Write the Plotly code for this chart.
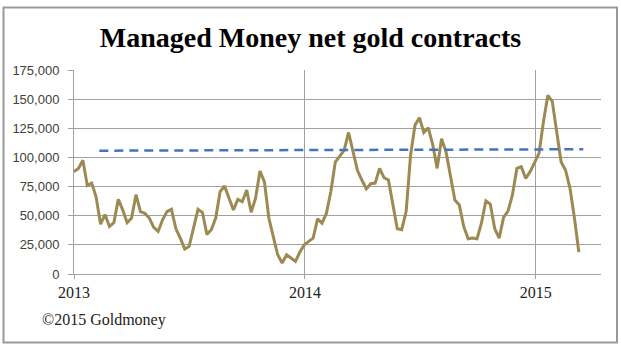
import plotly.graph_objects as go
import pandas as pd

# Weekly managed money net gold contracts (thousands)
net_contracts_k = [
    87.8, 90.6, 97.5, 76.0, 78.0, 66.0, 42.7, 51.0, 40.8, 44.0,
    64.0, 55.0, 44.0, 48.0, 68.0, 53.5, 52.0, 48.0, 40.0, 36.5,
    46.5, 53.5, 55.5, 39.0, 30.8, 21.4, 23.7, 39.0, 55.5, 52.7,
    34.0, 38.0, 48.0, 70.7, 75.5, 65.0, 55.0, 64.0, 62.0, 72.0,
    53.0, 65.0, 88.4, 79.0, 48.0, 32.0, 16.5, 9.4, 16.5, 13.7,
    10.8, 18.8, 25.0, 28.0, 30.8, 47.3, 43.6, 52.0, 70.7, 96.0,
    100.6, 106.0, 121.4, 105.0, 89.0, 80.6, 73.0, 77.5, 78.0, 90.6,
    82.6, 80.6, 59.3, 38.8, 38.0, 53.6, 102.0, 127.7, 134.0, 121.4,
    125.4, 111.0, 90.6, 116.0, 105.0, 83.5, 63.5, 59.3, 40.8, 30.2,
    30.8, 30.2, 43.6, 62.7, 60.0, 39.0, 30.8, 48.5, 54.0, 67.8,
    90.6, 92.0, 82.0, 87.8, 95.0, 103.5, 130.5, 153.3, 148.0, 122.0,
    96.0, 89.0, 73.5, 48.0, 18.8,
]
start_date = "2013-01-01"
dates = pd.date_range(start_date, periods=len(net_contracts_k), freq="7D")
values = [v * 1000 for v in net_contracts_k]

# Dashed reference line endpoints
ref_dates = ["2013-02-10", "2015-03-17"]
ref_values = [105800, 107000]

y_ticks = [0, 25000, 50000, 75000, 100000, 125000, 150000, 175000]
y_tick_text = ["0", "25,000", "50,000", "75,000", "100,000", "125,000", "150,000", "175,000"]
x_ticks = ["2013-01-01", "2014-01-01", "2015-01-01"]
x_tick_text = ["2013", "2014", "2015"]

W, H = 621, 350
ML, MR, MT, MB = 74, 20, 70, 76
PW, PH = W - ML - MR, H - MT - MB


def px_x(p):
    return (p - ML) / PW


def px_y(p):
    return (H - MB - p) / PH


fig = go.Figure()
fig.add_trace(go.Scatter(
    x=dates, y=values, mode="lines",
    line=dict(color="#9C8A52", width=3),
    showlegend=False, hoverinfo="skip",
))
fig.add_trace(go.Scatter(
    x=ref_dates, y=ref_values, mode="lines",
    line=dict(color="#4472C4", width=2.5, dash="9px,6px"),
    showlegend=False, hoverinfo="skip",
))

fig.update_layout(
    width=W, height=H,
    margin=dict(l=ML, r=MR, t=MT, b=MB),
    paper_bgcolor="white", plot_bgcolor="white",
    title=dict(
        text="<b>Managed Money net gold contracts</b>",
        font=dict(family="Liberation Serif", size=28, color="black"),
        x=0.5, xanchor="center", xref="container",
        y=1 - 37 / H, yanchor="middle", yref="container",
    ),
    xaxis=dict(
        type="date",
        range=["2013-01-01", "2015-04-14"],
        tickvals=x_ticks, ticktext=x_tick_text,
        showgrid=True, gridcolor="#A0A0A0", gridwidth=1,
        showline=True, linecolor="#A0A0A0", linewidth=1,
        ticks="outside", ticklen=4, tickcolor="#A0A0A0",
        tickfont=dict(family="Liberation Serif", size=16, color="#222222"),
        zeroline=False, fixedrange=True,
    ),
    yaxis=dict(
        range=[0, 175000],
        tickvals=y_ticks, ticktext=y_tick_text,
        showgrid=True, gridcolor="#A0A0A0", gridwidth=1,
        showline=True, linecolor="#A0A0A0", linewidth=1,
        ticks="outside", ticklen=5, tickcolor="#A0A0A0",
        tickfont=dict(family="Liberation Sans", size=13, color="#404040"),
        ticklabelstandoff=6,
        zeroline=False, fixedrange=True,
    ),
    shapes=[dict(
        type="rect", xref="paper", yref="paper",
        x0=px_x(3.5), x1=px_x(617), y0=px_y(342.5), y1=px_y(7.5),
        line=dict(color="#999999", width=2), fillcolor="rgba(0,0,0,0)",
        layer="below",
    )],
    annotations=[dict(
        text="©2015 Goldmoney", showarrow=False,
        xref="paper", yref="paper",
        x=px_x(40), y=px_y(320), xanchor="left", yanchor="middle",
        font=dict(family="Liberation Serif", size=16, color="#222222"),
    )],
)

fig.write_html("out.html")
